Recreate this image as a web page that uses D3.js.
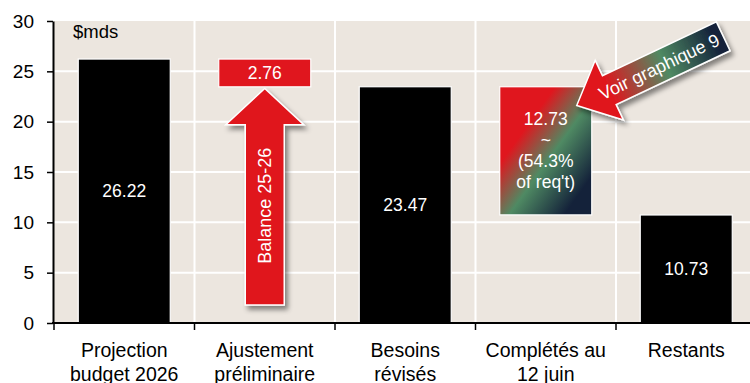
<!DOCTYPE html>
<html><head><meta charset="utf-8">
<script src="https://cdn.jsdelivr.net/npm/d3@7"></script>
<style>body{margin:0;background:#fff}svg{display:block}text{font-family:"Liberation Sans",Arial,sans-serif}</style>
</head><body><svg id="c" width="750" height="383"></svg>
<script>
// ---- data ----
const categories = [["Projection","budget 2026"],["Ajustement","préliminaire"],["Besoins","révisés"],["Complétés au","12 juin"],["Restants"]];
const barTops = [26.22, 26.22, 23.47, 23.47, 10.73];
const barBottoms = [0, 23.46, 0, 10.74, 0];
const barLabels = [["26.22"],["2.76"],["23.47"],["12.73","~","(54.3%","of req't)"],["10.73"]];
const barKinds = ["black","red","black","gradient","black"];
const yTicks = [0,5,10,15,20,25,30];
const unitLabel = "$mds";
const arrowUp = {cat:1, label:"Balance 25-26", tip:23.3, headBase:19.7, base:1.8};
const arrowNote = {cat:3, label:"Voir graphique 9", tipValue:21.6};

// ---- layout ----
const svg = d3.select("#c");
const x0 = 54, x1 = 756.5, yTop = 21, yBot = 323;
const x = d3.scaleBand().domain(d3.range(categories.length)).range([x0, x1]).padding(0);
const y = d3.scaleLinear().domain([0, 30]).range([yBot, yTop]);
const barW = x.bandwidth() * 0.655;
const RED = "#e0161e", GREEN = "#4f8a63", NAVY = "#14223a", BG = "#ece6df";

const defs = svg.append("defs");
const f = defs.append("filter").attr("id","sh").attr("x","-30%").attr("y","-30%").attr("width","160%").attr("height","160%");
f.append("feDropShadow").attr("dx",3).attr("dy",4).attr("stdDeviation",2.5).attr("flood-color","#000").attr("flood-opacity",0.45);
const g1 = defs.append("linearGradient").attr("id","gbox").attr("x1",0).attr("y1",0).attr("x2",1).attr("y2",1);
[[0,RED],[0.3,RED],[0.55,GREEN],[0.85,NAVY],[1,NAVY]].forEach(([o,c])=>g1.append("stop").attr("offset",o).attr("stop-color",c));
const g2 = defs.append("linearGradient").attr("id","garr").attr("x1",0).attr("y1",0).attr("x2",1).attr("y2",0);
[[0,RED],[0.22,RED],[0.6,GREEN],[0.95,NAVY],[1,NAVY]].forEach(([o,c])=>g2.append("stop").attr("offset",o).attr("stop-color",c));

// background
svg.append("rect").attr("x",x0).attr("y",yTop).attr("width",750-x0).attr("height",yBot-yTop).attr("fill",BG);
// grid
svg.append("g").selectAll("line").data(yTicks.filter(v=>v>0 && v<30)).join("line")
  .attr("x1",x0).attr("x2",750).attr("y1",d=>y(d)).attr("y2",d=>y(d)).attr("stroke","#fff").attr("stroke-width",2);
svg.append("g").selectAll("line").data(d3.range(1,categories.length)).join("line")
  .attr("x1",d=>x(d)).attr("x2",d=>x(d)).attr("y1",yTop).attr("y2",yBot).attr("stroke","#fff").attr("stroke-width",2);

// bars
const cx = i => x(i) + x.bandwidth()/2;
const bars = svg.append("g");
barTops.forEach((t,i)=>{
  const b = barBottoms[i];
  const fill = barKinds[i]==="black" ? "#000" : barKinds[i]==="red" ? RED : "url(#gbox)";
  bars.append("rect").attr("x",cx(i)-barW/2).attr("y",y(t)).attr("width",barW).attr("height",y(b)-y(t))
    .attr("fill",fill).attr("stroke","#fff").attr("stroke-width",1.2);
});

// up arrow (Balance)
{
  const c = cx(arrowUp.cat), sw = 19.5, hw = 39;
  const pts = [[c, y(arrowUp.tip)],[c+hw, y(arrowUp.headBase)],[c+sw, y(arrowUp.headBase)],[c+sw, y(arrowUp.base)],
    [c-sw, y(arrowUp.base)],[c-sw, y(arrowUp.headBase)],[c-hw, y(arrowUp.headBase)]];
  const g = svg.append("g").attr("filter","url(#sh)");
  g.append("path").attr("d", d3.line()(pts)+"Z").attr("fill",RED).attr("stroke","#fff").attr("stroke-width",1.5).attr("stroke-linejoin","miter");
  const ty = (y(arrowUp.headBase)+y(arrowUp.base))/2 - 9;
  svg.append("text").attr("transform",`translate(${c},${ty}) rotate(-90)`).attr("text-anchor","middle").attr("dy","0.35em")
    .attr("fill","#fff").attr("font-size",18).text(arrowUp.label);
}

// bar labels
barLabels.forEach((lines,i)=>{
  const mid = (y(barTops[i])+y(barBottoms[i]))/2;
  const lh = 21, n = lines.length;
  lines.forEach((s,j)=>{
    svg.append("text").attr("x",cx(i)).attr("y",mid + (j-(n-1)/2)*lh).attr("dy","0.35em").attr("text-anchor","middle")
      .attr("fill","#fff").attr("font-size",17.5).text(s);
  });
});

// note arrow (Voir graphique 9)
{
  const tx = cx(arrowNote.cat) + 31, ty = y(arrowNote.tipValue);
  const L = 162, hl = 36, hw = 33, sw = 16;
  const pts = [[0,0],[hl,-hw],[hl,-sw],[L,-sw],[L,sw],[hl,sw],[hl,hw]];
  const outer = svg.append("g").attr("filter","url(#sh)");
  const g = outer.append("g").attr("transform",`translate(${tx},${ty}) rotate(-25.3)`);
  g.append("path").attr("d", d3.line()(pts)+"Z").attr("fill","url(#garr)").attr("stroke","#fff").attr("stroke-width",1.5);
  svg.append("g").attr("transform",`translate(${tx},${ty}) rotate(-25.3)`)
    .append("text").attr("x",91).attr("y",0).attr("dy","0.35em").attr("text-anchor","middle")
    .attr("fill","#fff").attr("font-size",18).text(arrowNote.label);
}

// y axis
const ya = svg.append("g").attr("transform",`translate(${x0-1},0)`)
  .call(d3.axisLeft(y).tickValues(yTicks).tickSize(6).tickSizeOuter(0).tickPadding(13));
ya.select(".domain").attr("stroke","#000").attr("stroke-width",2);
ya.selectAll(".tick line").attr("stroke","#000").attr("stroke-width",1.5);
ya.selectAll("text").attr("font-size",19).attr("fill","#000").attr("font-family","'Liberation Sans',Arial,sans-serif");

// x axis line + boundary ticks
svg.append("line").attr("x1",x0-2).attr("x2",750).attr("y1",yBot).attr("y2",yBot).attr("stroke","#000").attr("stroke-width",2);
svg.append("g").selectAll("line").data(d3.range(0,categories.length)).join("line")
  .attr("x1",d=>x(d)).attr("x2",d=>x(d)).attr("y1",yBot).attr("y2",yBot+7).attr("stroke","#000").attr("stroke-width",1.5);
// x labels
categories.forEach((lines,i)=>{
  lines.forEach((s,j)=>{
    svg.append("text").attr("x",cx(i)).attr("y",357+j*24).attr("text-anchor","middle").attr("font-size",19.5).attr("fill","#000").text(s);
  });
});

// unit label
svg.append("text").attr("x",73).attr("y",38).attr("font-size",18.5).attr("fill","#000").text(unitLabel);
</script></body></html>
